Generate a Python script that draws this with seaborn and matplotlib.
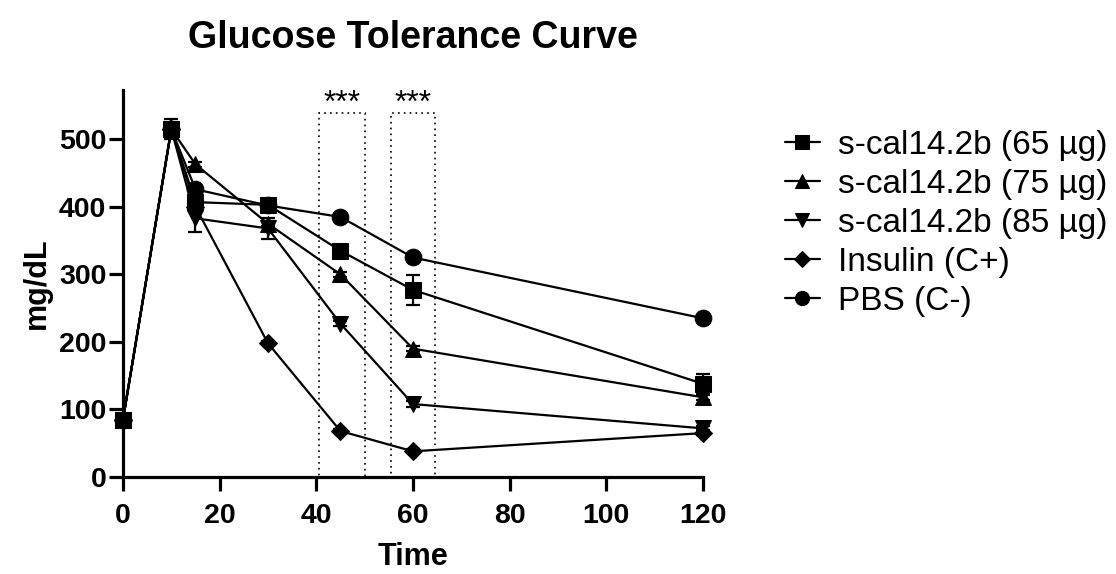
import numpy as np
import pandas as pd
import matplotlib
matplotlib.use("Agg")
import matplotlib.pyplot as plt
import seaborn as sns
from matplotlib.patches import Rectangle

time = [0, 10, 15, 30, 45, 60, 120]
series_names = ["s-cal14.2b (65 µg)", "s-cal14.2b (75 µg)", "s-cal14.2b (85 µg)", "Insulin (C+)", "PBS (C-)"]
cal65 = [85, 515, 407, 403, 335, 277, 138]
cal75 = [85, 515, 463, 375, 300, 190, 118]
cal85 = [85, 515, 383, 368, 227, 108, 72]
insulin = [85, 515, 400, 198, 68, 38, 65]
pbs = [85, 515, 426, 402, 385, 325, 235]
err65 = [3, 15, 5, 4, 4, 22, 15]
err75 = [3, 5, 4, 4, 4, 4, 4]
err85 = [3, 5, 20, 15, 4, 4, 3]
err_ins = [3, 5, 4, 3, 3, 3, 3]
err_pbs = [3, 5, 4, 3, 3, 3, 3]
markers_list = ["s", "^", "v", "D", "o"]

sig_ranges = [(40.5, 50), (55.5, 64.5)]
sig_labels = ["***", "***"]

values = [cal65, cal75, cal85, insulin, pbs]
errors = [err65, err75, err85, err_ins, err_pbs]

rows = []
for name, vals in zip(series_names, values):
    for t, v in zip(time, vals):
        rows.append({"Time": t, "mg/dL": v, "Group": name})
df = pd.DataFrame(rows)

sns.set_style("ticks")
plt.rcParams['font.family'] = ['Liberation Sans', 'DejaVu Sans']
for k in ["text.color", "axes.labelcolor", "xtick.color", "ytick.color", "axes.edgecolor"]:
    plt.rcParams[k] = "black"

fig = plt.figure(figsize=(11.16, 5.74), dpi=100)
ax = fig.add_axes([0.1102, 0.169, 0.5197, 0.6742])

for name, vals, errs in zip(series_names, values, errors):
    ax.errorbar(time, vals, yerr=errs, fmt="none", ecolor="black", elinewidth=1.6,
                capsize=5, capthick=1.6, zorder=2, clip_on=False)

sns.lineplot(data=df, x="Time", y="mg/dL", hue="Group", style="Group",
             markers=dict(zip(series_names, markers_list)), dashes=False,
             palette=["black"] * 5, linewidth=1.6, markersize=12,
             markeredgecolor="black", ax=ax, zorder=3)

for line in ax.get_lines():
    if line.get_marker() == "D":
        line.set_markersize(9.5)
    line.set_clip_on(False)

handles, labels = ax.get_legend_handles_labels()
if ax.get_legend() is not None:
    ax.get_legend().remove()

for (x0, x1), lab in zip(sig_ranges, sig_labels):
    ax.add_patch(Rectangle((x0, 0), x1 - x0, 539, fill=False, linestyle=(0, (1, 2.5)),
                           linewidth=1.2, edgecolor="black", zorder=1))
    ax.text((x0 + x1) / 2, 541, lab, ha="center", va="baseline", fontsize=23)

ax.set_xlim(0, 120)
ax.set_ylim(0, 573)
ax.set_xticks([0, 20, 40, 60, 80, 100, 120])
ax.set_yticks([0, 100, 200, 300, 400, 500])
sns.despine(ax=ax)
for s in ["left", "bottom"]:
    ax.spines[s].set_linewidth(2.3)
ax.tick_params(width=2.3, length=10, labelsize=20.5)
ax.tick_params(axis="x", pad=9)
ax.tick_params(axis="y", pad=2)
for lab in ax.get_xticklabels() + ax.get_yticklabels():
    lab.set_fontweight("bold")
ax.set_xlabel("Time", fontsize=22, fontweight="bold", labelpad=9)
ax.set_ylabel("mg/dL", fontsize=22, fontweight="bold", labelpad=5)
ax.set_title("Glucose Tolerance Curve", fontsize=27, fontweight="bold", pad=30)

leg = fig.legend(handles, labels, loc="upper left", bbox_to_anchor=(0.703, 0.774),
                 frameon=False, fontsize=24, handlelength=1.05, labelspacing=0.24,
                 handletextpad=0.55, markerscale=0.85, borderpad=0, borderaxespad=0)

fig.savefig("out.png", dpi=100)
